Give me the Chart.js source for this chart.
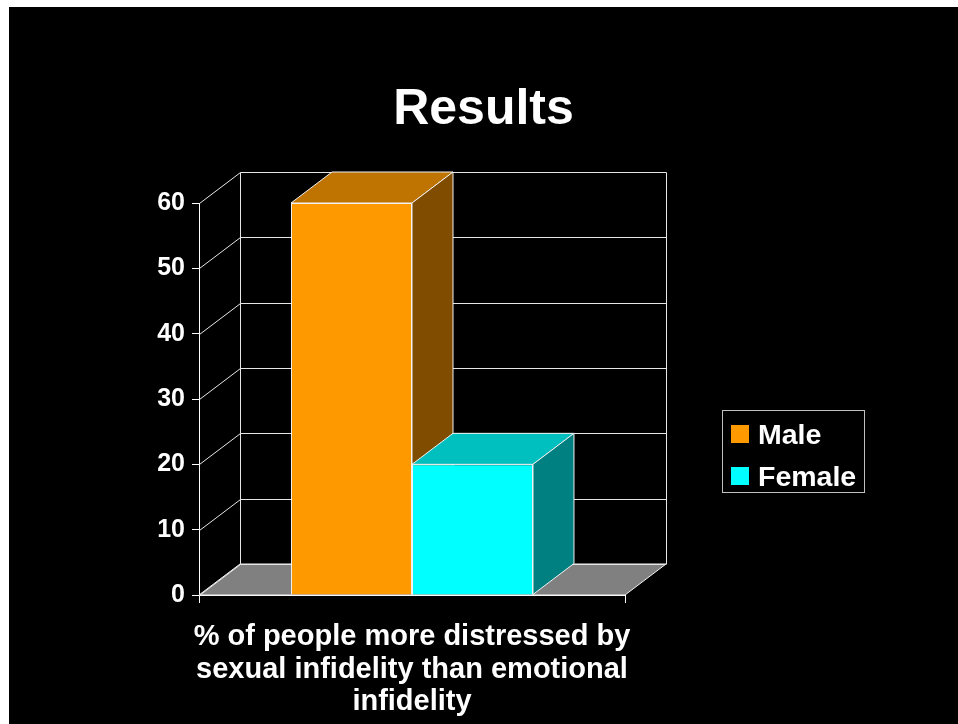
<!DOCTYPE html>
<html>
<head>
<meta charset="utf-8">
<script src="https://cdn.jsdelivr.net/npm/chart.js@4.4.0/dist/chart.umd.min.js"></script>
<style>
  html, body { margin: 0; padding: 0; background: #fff; }
  #slide { position: absolute; left: 9px; top: 7px; width: 949px; height: 717px; background: #000; }
  #legend {
    position: absolute; left: 713px; top: 403px; width: 141px; height: 81px;
    border: 1px solid #bfbfbf;
    font: bold 28.5px "Liberation Sans", Arial, sans-serif; color: #fff;
  }
  .row { position: absolute; left: 8px; height: 30px; display: flex; align-items: center; white-space: nowrap; }
  .swatch { width: 18px; height: 18px; margin-right: 9px; }
</style>
</head>
<body>
<div id="slide">
  <canvas id="chart"></canvas>
  <div id="legend"></div>
</div>
<script>
const TITLE = 'Results';
const CATEGORY_LABEL = ['% of people more distressed by', 'sexual infidelity than emotional', 'infidelity'];
const SERIES_NAMES = ['Male', 'Female'];
const SERIES_VALUES = [60, 20];
const Y_TICKS = [0, 10, 20, 30, 40, 50, 60];

// face colours per series: front, top, side
const FACE_FRONT = ['#ff9900', '#00ffff'];
const FACE_TOP = ['#bf7300', '#00bfbf'];
const FACE_SIDE = ['#804d00', '#008080'];

const FONT = "'Liberation Sans', Arial, sans-serif";
const DX = 41, DY = -31;   // depth offset of the 3D box

function poly(ctx, pts, fill) {
    ctx.beginPath();
    ctx.moveTo(pts[0][0], pts[0][1]);
    for (let i = 1; i < pts.length; i++) ctx.lineTo(pts[i][0], pts[i][1]);
    ctx.closePath();
    ctx.fillStyle = fill;
    ctx.fill();
    ctx.strokeStyle = '#f2f2f2';
    ctx.lineWidth = 1;
    ctx.stroke();
}

// back wall, side wall, floor and the top/side faces of the bars
const depthPlugin = {
    id: 'depth3d',
    beforeDatasetsDraw(chart) {
        const { ctx, chartArea: a, scales: { y } } = chart;
        const L = a.left, R = a.right;
        const B = y.getPixelForValue(0);
        ctx.save();

        poly(ctx, [[L, B], [R, B], [R + DX, B + DY], [L + DX, B + DY]], '#808080');

        ctx.strokeStyle = '#e6e6e6';
        ctx.lineWidth = 1;
        ctx.beginPath();
        y.ticks.forEach(t => {
            const py = Math.round(y.getPixelForValue(t.value)) + 0.5;
            ctx.moveTo(L + 0.5, py);
            ctx.lineTo(L + DX + 0.5, py + DY);
            ctx.lineTo(R + DX + 0.5, py + DY);
        });
        const top = Math.round(y.getPixelForValue(y.max)) + 0.5;
        ctx.moveTo(L + DX + 0.5, top + DY); ctx.lineTo(L + DX + 0.5, B + DY);
        ctx.moveTo(R + DX + 0.5, top + DY); ctx.lineTo(R + DX + 0.5, B + DY);
        ctx.stroke();

        chart.data.datasets.forEach((ds, i) => {
            chart.getDatasetMeta(i).data.forEach(bar => {
                const { x, y: ty, base, width } = bar.getProps(['x', 'y', 'base', 'width'], true);
                const x1 = x - width / 2, x2 = x + width / 2;
                poly(ctx, [[x1, ty], [x2, ty], [x2 + DX, ty + DY], [x1 + DX, ty + DY]], FACE_TOP[i]);
                poly(ctx, [[x2, ty], [x2 + DX, ty + DY], [x2 + DX, base + DY], [x2, base]], FACE_SIDE[i]);
            });
        });
        ctx.restore();
    }
};

new Chart(document.getElementById('chart'), {
    type: 'bar',
    data: {
        labels: [CATEGORY_LABEL],
        datasets: SERIES_NAMES.map((name, i) => ({
            label: name,
            data: [SERIES_VALUES[i]],
            backgroundColor: FACE_FRONT[i],
            borderColor: '#f2f2f2',
            borderWidth: 1,
            barPercentage: 1,
            categoryPercentage: 0.568
        }))
    },
    options: {
        responsive: true,
        maintainAspectRatio: false,
        animation: false,
        layout: { padding: 0 },
        plugins: {
            legend: { display: false },
            tooltip: { enabled: false },
            title: {
                display: true,
                text: TITLE,
                color: '#ffffff',
                font: { family: FONT, size: 50, weight: 'bold', lineHeight: 1.2 },
                padding: { top: 73, bottom: 63 }
            }
        },
        scales: {
            x: {
                grid: { drawOnChartArea: false, tickLength: 8, color: '#ffffff', offset: true },
                border: { color: '#ffffff' },
                ticks: {
                    color: '#ffffff',
                    font: { family: FONT, size: 29, weight: 'bold', lineHeight: 1.12 },
                    padding: 18, maxRotation: 0, autoSkip: false
                },
                afterFit: s => { s.height = 129; }
            },
            y: {
                min: 0,
                max: 60,
                afterBuildTicks: s => { s.ticks = Y_TICKS.map(v => ({ value: v })); },
                grid: { drawOnChartArea: false, tickLength: 7, color: '#ffffff' },
                border: { color: '#ffffff' },
                ticks: { color: '#ffffff', font: { family: FONT, size: 25, weight: 'bold' }, padding: 7 },
                afterFit: s => { s.width = 190; }
            },
            // empty axis that keeps room for the legend on the right
            pad: {
                type: 'linear',
                position: 'right',
                grid: { display: false },
                border: { display: false },
                ticks: { display: false },
                afterFit: s => { s.width = 333; }
            }
        }
    },
    plugins: [depthPlugin]
});

// legend drawn as html
const legendEl = document.getElementById('legend');
SERIES_NAMES.forEach((name, i) => {
    const row = document.createElement('div');
    row.className = 'row';
    row.style.top = (8 + i * 42) + 'px';
    const sw = document.createElement('span');
    sw.className = 'swatch';
    sw.style.background = FACE_FRONT[i];
    row.appendChild(sw);
    row.appendChild(document.createTextNode(name));
    legendEl.appendChild(row);
});
</script>
</body>
</html>
